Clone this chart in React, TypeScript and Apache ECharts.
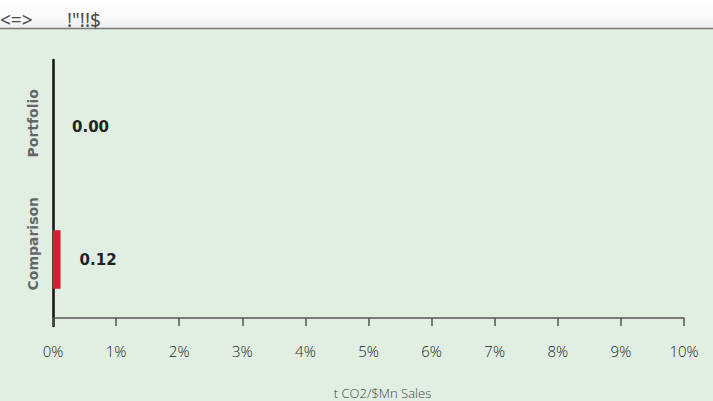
import React, { useEffect, useRef } from "react";
import * as echarts from "echarts";

const categories = ["Portfolio", "Comparison"];
const values = [0.0, 0.12];
const tickMax = 10;
const axisName = "t CO2/$Mn Sales";
const headerTexts = ["<=>", "!\"!!$"];

export default function App() {
  const ref = useRef<HTMLDivElement>(null);
  useEffect(() => {
    document.body.style.margin = "0";
    const chart = echarts.init(ref.current!, null, { renderer: "svg" });
    chart.setOption({
      animation: false,
      backgroundColor: "#e0efe1",
      graphic: [
        {
          type: "rect",
          shape: { x: 0, y: 0, width: 713, height: 28 },
          style: {
            fill: new echarts.graphic.LinearGradient(0, 0, 0, 1, [
              { offset: 0, color: "#ffffff" },
              { offset: 0.6, color: "#fbfbfb" },
              { offset: 1, color: "#eeeeee" },
            ]),
          },
          z: 0,
        },
        {
          type: "line",
          shape: { x1: 0, y1: 28.5, x2: 713, y2: 28.5 },
          style: { stroke: "#7a7a7a", lineWidth: 1.5 },
        },
        {
          type: "text",
          x: 0,
          y: 20,
          style: {
            text: headerTexts[0],
            fill: "#4a4a4a",
            font: "19px 'Noto Sans'",
            verticalAlign: "middle",
          },
        },
        {
          type: "text",
          x: 67,
          y: 20,
          style: {
            text: headerTexts[1],
            fill: "#4a4a4a",
            font: "19px 'Noto Sans'",
            verticalAlign: "middle",
          },
        },
      ],
      grid: { left: 53, right: 29, top: 60, bottom: 75, containLabel: false, outerBoundsMode: "none" },
      xAxis: {
        type: "value",
        min: 0,
        max: tickMax,
        interval: 1,
        offset: -8,
        splitLine: { show: false },
        axisLine: { show: true, lineStyle: { color: "#555", width: 1.5 } },
        axisTick: { show: true, length: 8, lineStyle: { color: "#555", width: 1.5 } },
        axisLabel: {
          formatter: (v: number) => `${v}%`,
          margin: 25,
          color: "#1e1e1e",
          fontSize: 15,
          fontFamily: "'Open Sans'",
          fontWeight: 300,
        },
        name: axisName,
        nameLocation: "middle",
        nameGap: 68,
        nameTextStyle: {
          color: "#444",
          fontSize: 13,
          fontFamily: "'Open Sans'",
          fontWeight: 300,
          padding: [0, 0, 0, 28],
        },
      },
      yAxis: {
        type: "category",
        inverse: true,
        data: categories,
        axisLine: { show: true, lineStyle: { color: "#111", width: 2.5 } },
        axisTick: { show: false },
        axisLabel: {
          rotate: 90,
          align: "left",
          padding: [0, 0, 0, -31],
          margin: 13,
          color: "#666",
          fontSize: 14,
          fontWeight: "bold",
          fontFamily: "'DejaVu Sans'",
        },
      },
      series: [
        {
          type: "bar",
          data: values,
          barWidth: "44%",
          itemStyle: { color: "#d42033" },
          label: {
            show: true,
            position: "right",
            distance: 19,
            formatter: (p: any) => Number(p.value).toFixed(2),
            color: "#222",
            fontSize: 15,
            fontWeight: "bold",
            fontFamily: "'DejaVu Sans'",
          },
        },
      ],
    });
    return () => chart.dispose();
  }, []);
  return <div ref={ref} style={{ width: 713, height: 401 }} />;
}
